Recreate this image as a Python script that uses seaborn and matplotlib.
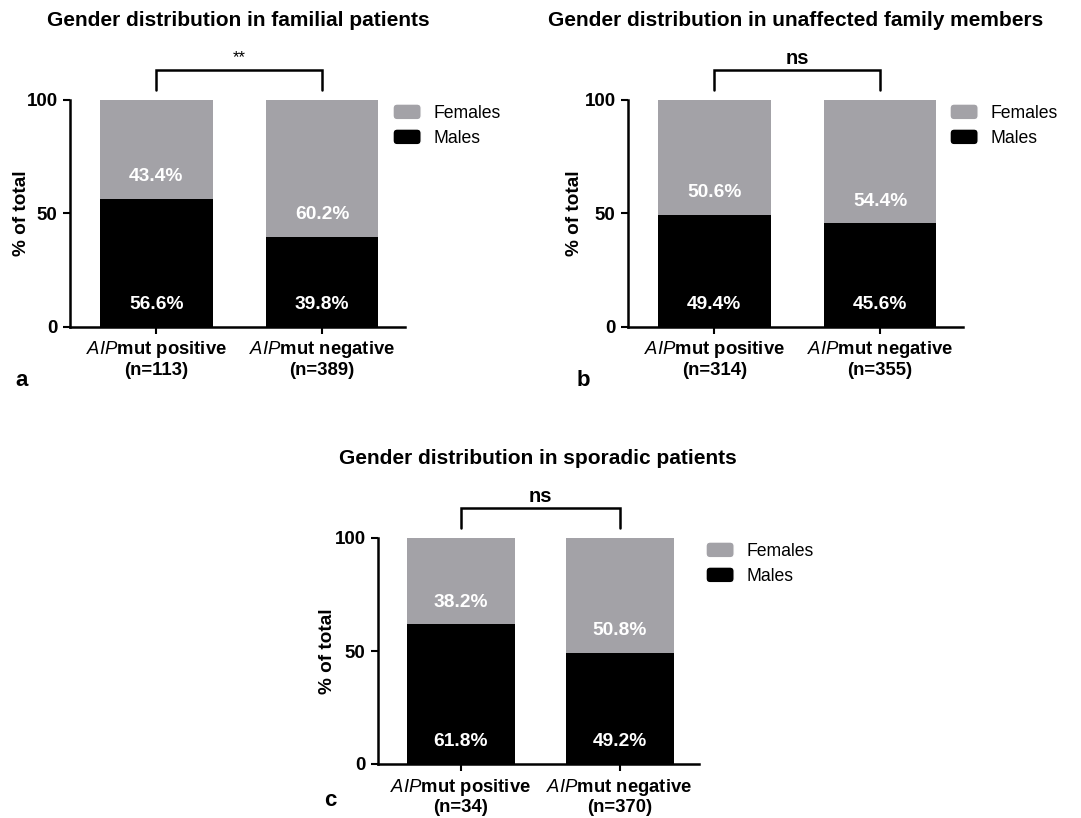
import matplotlib
matplotlib.use("Agg")
import matplotlib.pyplot as plt
from matplotlib.legend_handler import HandlerPatch
from matplotlib.patches import FancyBboxPatch
import seaborn as sns
import pandas as pd

# Group labels and values per cohort (percent of total)
groups = ["positive", "negative"]
familial_n = [113, 389]
familial_males = [56.6, 39.8]
familial_females = [43.4, 60.2]

unaffected_n = [314, 355]
unaffected_males = [49.4, 45.6]
unaffected_females = [50.6, 54.4]

sporadic_n = [34, 370]
sporadic_males = [61.8, 49.2]
sporadic_females = [38.2, 50.8]

titles = ["Gender distribution in familial patients",
          "Gender distribution in unaffected family members",
          "Gender distribution in sporadic patients"]
significance = ["**", "ns", "ns"]
panel_letters = ["a", "b", "c"]
legend_labels = ["Females", "Males"]
y_ticks = [0, 50, 100]

GRAY = "#a3a2a7"
BLACK = "#000000"

sns.set_theme(style="ticks")
plt.rcParams["font.family"] = ["Liberation Sans", "DejaVu Sans"]
plt.rcParams["mathtext.fontset"] = "custom"
plt.rcParams["mathtext.it"] = "Liberation Sans:italic"
plt.rcParams["mathtext.rm"] = "Liberation Sans:bold"
for key in ("text.color", "axes.labelcolor", "xtick.color", "ytick.color", "axes.edgecolor"):
    plt.rcParams[key] = "black"

W, H = 1081, 818
fig = plt.figure(figsize=(W / 100, H / 100), dpi=100)


def rounded_handle(legend, orig_handle, xdescent, ydescent, width, height, fontsize):
    return FancyBboxPatch((-xdescent, -ydescent), width, height,
                          boxstyle="round,pad=0,rounding_size=3",
                          facecolor=orig_handle.get_facecolor(), edgecolor="none")


def px_axes(left, right, top, bottom):
    return fig.add_axes([left / W, 1 - bottom / H, (right - left) / W, (bottom - top) / H])


def draw_panel(ax, n, males, females, sig, legend_xy, ylabel_dx):
    df = pd.DataFrame({
        "group": groups,
        "total": [m + f for m, f in zip(males, females)],
        "males": males,
        "females": females,
    })
    sns.barplot(data=df, x="group", y="total", color=GRAY, width=0.68,
                saturation=1, edgecolor="none", linewidth=0, ax=ax)
    sns.barplot(data=df, x="group", y="males", color=BLACK, width=0.68,
                saturation=1, edgecolor="none", linewidth=0, ax=ax)

    for i, (m, f) in enumerate(zip(males, females)):
        ax.text(i, 10, f"{m:.1f}%", ha="center", va="center", color="white",
                fontsize=13.8, fontweight="bold")
        ax.text(i, m + 9.7, f"{f:.1f}%", ha="center", va="center", color="white",
                fontsize=13.8, fontweight="bold")

    ax.set_ylim(0, 100)
    ax.set_xlim(-0.52, 1.5)
    ax.set_yticks(y_ticks)
    ax.set_yticklabels([str(t) for t in y_ticks], fontsize=13.5, fontweight="bold")
    ax.set_xticks(range(len(groups)))
    ax.set_xticklabels([f"$AIP$mut {g}\n(n={k})" for g, k in zip(groups, n)],
                       fontsize=13.3, fontweight="bold", linespacing=1.15)
    ax.set_xlabel("")
    ax.set_ylabel("% of total", fontsize=13.7, fontweight="bold")
    width_px = ax.get_position().width * W
    ax.yaxis.set_label_coords(ylabel_dx / width_px, 0.5)
    ax.tick_params(axis="both", length=5, width=1.5, pad=4, color="black")
    sns.despine(ax=ax)
    for s in ("left", "bottom"):
        ax.spines[s].set_linewidth(1.8)
        ax.spines[s].set_color("black")

    # significance bracket between the two bars
    ax.plot([0, 0, 1, 1], [104.4, 113.2, 113.2, 104.4], color="black",
            lw=1.8, clip_on=False, solid_joinstyle="miter")
    if sig == "ns":
        ax.text(0.5, 114.0, sig, ha="center", va="bottom", fontsize=14.5, fontweight="bold")
    else:
        ax.text(0.5, 115.5, sig, ha="center", va="bottom", fontsize=12)

    handles = [plt.Rectangle((0, 0), 1, 1, facecolor=GRAY),
               plt.Rectangle((0, 0), 1, 1, facecolor=BLACK)]
    ax.legend(handles, legend_labels, loc="upper left",
              bbox_to_anchor=(legend_xy[0] / W, 1 - legend_xy[1] / H),
              bbox_transform=fig.transFigure, frameon=False, fontsize=12.7,
              handlelength=1.6, handleheight=1.0, handletextpad=0.7,
              labelspacing=0.4, borderpad=0, borderaxespad=0,
              handler_map={plt.Rectangle: HandlerPatch(patch_func=rounded_handle)})


ax_a = px_axes(70, 405, 100, 327)
draw_panel(ax_a, familial_n, familial_males, familial_females, significance[0], (393, 104), -40)
ax_b = px_axes(628, 963, 100, 327)
draw_panel(ax_b, unaffected_n, unaffected_males, unaffected_females, significance[1], (950, 104), -45)
ax_c = px_axes(378, 699, 538, 764)
draw_panel(ax_c, sporadic_n, sporadic_males, sporadic_females, significance[2], (706, 542), -42)

title_pos = [(238, 20), (796, 20), (538, 458)]
for t, (x, y) in zip(titles, title_pos):
    fig.text(x / W, 1 - y / H, t, ha="center", va="center", fontsize=15, fontweight="bold")

letter_pos = [(22, 381), (583, 380), (330, 800)]
for l, (x, y) in zip(panel_letters, letter_pos):
    fig.text(x / W, 1 - y / H, l, ha="center", va="center", fontsize=16, fontweight="bold")

fig.savefig("out.png", dpi=100, facecolor="white")
